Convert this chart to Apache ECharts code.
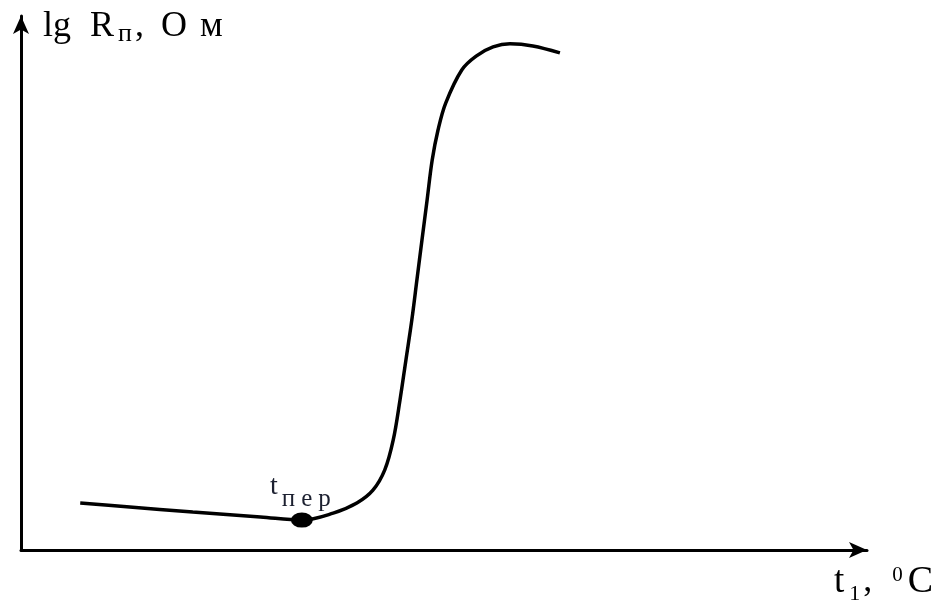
<!DOCTYPE html>
<html><head><meta charset="utf-8">
<script src="https://cdn.jsdelivr.net/npm/echarts@6/dist/echarts.min.js"></script>
<style>html,body{margin:0;padding:0;background:#fff}#c{width:946px;height:610px}</style>
</head><body><div id="c"></div>
<script>
// Curve: temperature t1 (arbitrary units) vs lg R (arbitrary units)
const tValues = [7.0, 12.5, 20.3, 28.3, 33.2, 36.9, 39.7, 41.6, 43.0, 44.0, 44.8, 45.5, 46.2, 46.8, 47.4, 48.0, 48.6, 49.3, 50.2, 52.1, 53.8, 55.8, 57.8, 60.5, 63.7];
const lgRValues = [8.8, 8.1, 7.1, 6.2, 5.6, 6.9, 8.8, 11.2, 15.0, 20.6, 28.1, 35.6, 43.1, 50.6, 58.1, 65.5, 73.0, 78.7, 83.7, 89.9, 92.5, 94.2, 94.8, 94.4, 93.1];
const transitionPoint = [33.2, 5.6];
const xNameParts = ['t', '1', ',', '0', 'C'];
const yNameParts = ['lg', 'R', 'п', ',', 'О', 'м'];
const pointLabelParts = ['t', 'п', 'е', 'р'];

const chart = echarts.init(document.getElementById('c'));
const serif = '"Liberation Serif", "DejaVu Serif", serif';
const ink = '#000';
const labelInk = '#1c2030';
const axisCommon = {
  type: 'value', min: 0, max: 100,
  splitLine: {show: false}, axisTick: {show: false}, axisLabel: {show: false},
  axisLine: {show: true, onZero: false, symbol: ['none', 'arrow'], symbolSize: [12, 18],
    lineStyle: {color: ink, width: 3}}
};
chart.setOption({
  animation: false,
  backgroundColor: '#fff',
  grid: {left: 21, right: 79, top: 16, bottom: 60},
  xAxis: Object.assign({}, axisCommon, {
    name: `{a|${xNameParts[0]}}{s|${xNameParts[1]}}{c|${xNameParts[2]}}{sup|${xNameParts[3]}}{b|${xNameParts[4]}}`,
    nameLocation: 'end', nameGap: -33,
    nameTextStyle: {
      fontFamily: serif, fontSize: 36, color: ink,
      align: 'left', verticalAlign: 'top', padding: [12, 0, 0, 0],
      rich: {
        a: {fontFamily: serif, fontSize: 37, color: ink, lineHeight: 40},
        b: {fontFamily: serif, fontSize: 38, color: ink, lineHeight: 40},
        c: {fontFamily: serif, fontSize: 36, color: ink, lineHeight: 40, padding: [0, 20, 0, 3]},
        s: {fontFamily: serif, fontSize: 22, color: ink, lineHeight: 16, padding: [24, 0, 0, 5]},
        sup: {fontFamily: serif, fontSize: 21, color: ink, lineHeight: 20, padding: [0, 5, 14, 0]}
      }
    }
  }),
  yAxis: Object.assign({}, axisCommon, {
    name: `{a|${yNameParts[0]}}{r|${yNameParts[1]}}{s|${yNameParts[2]}}{c|${yNameParts[3]}}{o|${yNameParts[4]}}{a|${yNameParts[5]}}`,
    nameLocation: 'end', nameGap: 0,
    nameTextStyle: {
      fontFamily: serif, fontSize: 36, color: ink,
      align: 'left', verticalAlign: 'top', padding: [-9, 0, 0, 22],
      rich: {
        a: {fontFamily: serif, fontSize: 36, color: ink, lineHeight: 40},
        r: {fontFamily: serif, fontSize: 36, color: ink, lineHeight: 40, padding: [0, 4, 0, 19]},
        s: {fontFamily: serif, fontSize: 26, color: ink, lineHeight: 26, padding: [14, 3, 0, 0]},
        c: {fontFamily: serif, fontSize: 36, color: ink, lineHeight: 40, padding: [0, 17, 0, 0]},
        o: {fontFamily: serif, fontSize: 36, color: ink, lineHeight: 40, padding: [0, 13, 0, 0]}
      }
    }
  }),
  series: [
    {
      type: 'line', smooth: 0.35, symbol: 'none',
      lineStyle: {color: ink, width: 3.5},
      data: tValues.map((t, i) => [t, lgRValues[i]]),
      z: 2
    },
    {
      type: 'scatter', symbol: 'circle', symbolSize: [22, 15],
      itemStyle: {color: ink, opacity: 1},
      data: [transitionPoint],
      label: {
        show: true, position: 'top', distance: 11,
        fontFamily: serif, fontSize: 28, color: labelInk,
        formatter: `{t|${pointLabelParts[0]}}` + pointLabelParts.slice(1).map(p => `{s|${p}}`).join(''),
        rich: {
          t: {fontFamily: serif, fontSize: 28, color: labelInk, lineHeight: 30, padding: [0, 1, 0, 0]},
          s: {fontFamily: serif, fontSize: 25, color: labelInk, lineHeight: 14, padding: [26, 3, 0, 3]}
        }
      },
      z: 3
    }
  ]
});
</script></body></html>
